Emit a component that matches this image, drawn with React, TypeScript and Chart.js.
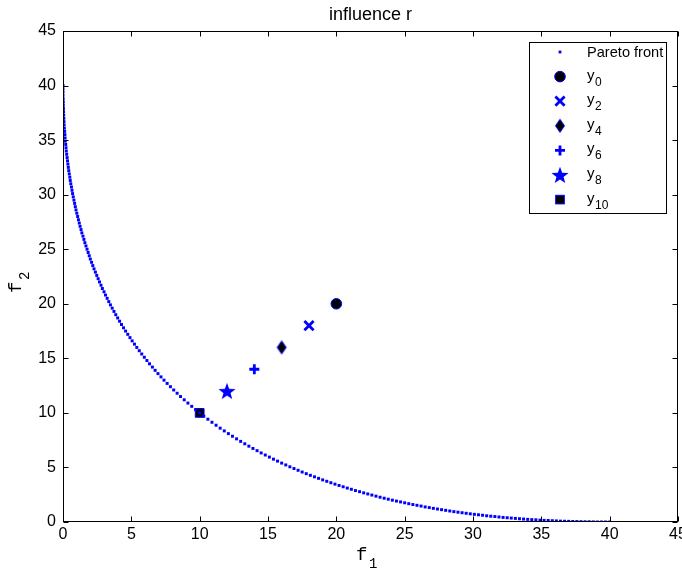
import React, { useEffect, useRef } from 'react';
import { Chart, registerables } from 'chart.js';

Chart.register(...registerables);

// ---------- data ----------
const paretoF1 = [
  0, 0, 0, 0, 0.01, 0.02, 0.02, 0.03, 0.04, 0.05,
  0.06, 0.07, 0.08, 0.10, 0.12, 0.14, 0.15, 0.17, 0.20, 0.22,
  0.24, 0.27, 0.30, 0.33, 0.36, 0.39, 0.42, 0.46, 0.50, 0.53,
  0.57, 0.62, 0.66, 0.70, 0.75, 0.80, 0.85, 0.90, 0.95, 1.01,
  1.07, 1.13, 1.19, 1.25, 1.32, 1.38, 1.46, 1.53, 1.60, 1.68,
  1.76, 1.84, 1.92, 2.00, 2.09, 2.18, 2.27, 2.37, 2.47, 2.57,
  2.67, 2.78, 2.88, 3.00, 3.11, 3.23, 3.35, 3.47, 3.60, 3.73,
  3.86, 4.00, 4.14, 4.28, 4.43, 4.58, 4.74, 4.90, 5.06, 5.23,
  5.40, 5.58, 5.76, 5.95, 6.14, 6.33, 6.54, 6.74, 6.95, 7.17,
  7.39, 7.62, 7.86, 8.10, 8.35, 8.60, 8.87, 9.14, 9.42, 9.70,
  10.0,
  10.3, 10.6, 10.9, 11.2, 11.5, 11.8, 12.1, 12.4, 12.7, 13.0,
  13.3, 13.6, 13.9, 14.2, 14.5, 14.8, 15.1, 15.4, 15.7, 16.0,
  16.3, 16.6, 16.9, 17.2, 17.5, 17.8, 18.1, 18.4, 18.7, 19.0,
  19.3, 19.6, 19.9, 20.2, 20.5, 20.8, 21.1, 21.4, 21.7, 22.0,
  22.3, 22.6, 22.9, 23.2, 23.5, 23.8, 24.1, 24.4, 24.7, 25.0,
  25.3, 25.6, 25.9, 26.2, 26.5, 26.8, 27.1, 27.4, 27.7, 28.0,
  28.3, 28.6, 28.9, 29.2, 29.5, 29.8, 30.1, 30.4, 30.7, 31.0,
  31.3, 31.6, 31.9, 32.2, 32.5, 32.8, 33.1, 33.4, 33.7, 34.0,
  34.3, 34.6, 34.9, 35.2, 35.5, 35.8, 36.1, 36.4, 36.7, 37.0,
  37.3, 37.6, 37.9, 38.2, 38.5, 38.8, 39.1, 39.4, 39.7, 40.0,
];

const paretoF2 = [
  40.0, 39.7, 39.4, 39.1, 38.8, 38.5, 38.2, 37.9, 37.6, 37.3,
  37.0, 36.7, 36.4, 36.1, 35.8, 35.5, 35.2, 34.9, 34.6, 34.3,
  34.0, 33.7, 33.4, 33.1, 32.8, 32.5, 32.2, 31.9, 31.6, 31.3,
  31.0, 30.7, 30.4, 30.1, 29.8, 29.5, 29.2, 28.9, 28.6, 28.3,
  28.0, 27.7, 27.4, 27.1, 26.8, 26.5, 26.2, 25.9, 25.6, 25.3,
  25.0, 24.7, 24.4, 24.1, 23.8, 23.5, 23.2, 22.9, 22.6, 22.3,
  22.0, 21.7, 21.4, 21.1, 20.8, 20.5, 20.2, 19.9, 19.6, 19.3,
  19.0, 18.7, 18.4, 18.1, 17.8, 17.5, 17.2, 16.9, 16.6, 16.3,
  16.0, 15.7, 15.4, 15.1, 14.8, 14.5, 14.2, 13.9, 13.6, 13.3,
  13.0, 12.7, 12.4, 12.1, 11.8, 11.5, 11.2, 10.9, 10.6, 10.3,
  10.0,
  9.70, 9.42, 9.14, 8.87, 8.60, 8.35, 8.10, 7.86, 7.62, 7.39,
  7.17, 6.95, 6.74, 6.54, 6.33, 6.14, 5.95, 5.76, 5.58, 5.40,
  5.23, 5.06, 4.90, 4.74, 4.58, 4.43, 4.28, 4.14, 4.00, 3.86,
  3.73, 3.60, 3.47, 3.35, 3.23, 3.11, 3.00, 2.88, 2.78, 2.67,
  2.57, 2.47, 2.37, 2.27, 2.18, 2.09, 2.00, 1.92, 1.84, 1.76,
  1.68, 1.60, 1.53, 1.46, 1.38, 1.32, 1.25, 1.19, 1.13, 1.07,
  1.01, 0.95, 0.90, 0.85, 0.80, 0.75, 0.70, 0.66, 0.62, 0.57,
  0.53, 0.50, 0.46, 0.42, 0.39, 0.36, 0.33, 0.30, 0.27, 0.24,
  0.22, 0.20, 0.17, 0.15, 0.14, 0.12, 0.10, 0.08, 0.07, 0.06,
  0.05, 0.04, 0.03, 0.02, 0.02, 0.01, 0, 0, 0, 0,
];

const solutionSubscripts = ['0', '2', '4', '6', '8', '10'];
const solutionF1 = [20, 18, 16, 14, 12, 10];
const solutionF2 = [20, 18, 16, 14, 12, 10];

const titleText = 'influence r';
const paretoLabel = 'Pareto front';
const axisMin = 0;
const axisMax = 45;
const axisStep = 5;

// ---------- styling ----------
const BLUE = '#0000ff';
const SANS = '"Liberation Sans", Arial, Helvetica, sans-serif';
const MONO = '"Liberation Mono", "Courier New", monospace';

function makeStar(): HTMLCanvasElement {
  const c = document.createElement('canvas');
  c.width = 20;
  c.height = 20;
  const g = c.getContext('2d')!;
  g.beginPath();
  for (let i = 0; i < 10; i++) {
    const r = i % 2 === 0 ? 9 : 3.7;
    const a = -Math.PI / 2 + (i * Math.PI) / 5;
    const px = 10 + r * Math.cos(a);
    const py = 10.8 + r * Math.sin(a);
    if (i === 0) g.moveTo(px, py);
    else g.lineTo(px, py);
  }
  g.closePath();
  g.fillStyle = BLUE;
  g.fill();
  return c;
}

function makeDiamond(): HTMLCanvasElement {
  const c = document.createElement('canvas');
  c.width = 12;
  c.height = 16;
  const g = c.getContext('2d')!;
  g.beginPath();
  g.moveTo(6, 1.5);
  g.lineTo(10.5, 8);
  g.lineTo(6, 14.5);
  g.lineTo(1.5, 8);
  g.closePath();
  g.fillStyle = '#000';
  g.fill();
  g.strokeStyle = BLUE;
  g.lineWidth = 1;
  g.stroke();
  return c;
}

type MarkerSpec = {
  pointStyle: any;
  radius: number;
  bg: string;
  border: string;
  borderWidth: number;
};

export default function App() {
  const ref = useRef<HTMLCanvasElement | null>(null);

  useEffect(() => {
    document.body.style.margin = '0';
    const canvas = ref.current;
    if (!canvas) return;

    const star = makeStar();
    const diamond = makeDiamond();

    const markers: MarkerSpec[] = [
      { pointStyle: 'circle', radius: 5.3, bg: '#000', border: BLUE, borderWidth: 1 },
      { pointStyle: 'crossRot', radius: 6.5, bg: BLUE, border: BLUE, borderWidth: 2.8 },
      { pointStyle: diamond, radius: 6, bg: '#000', border: BLUE, borderWidth: 1 },
      { pointStyle: 'cross', radius: 5, bg: BLUE, border: BLUE, borderWidth: 2.8 },
      { pointStyle: star, radius: 9, bg: BLUE, border: BLUE, borderWidth: 0 },
      { pointStyle: 'rect', radius: 6.2, bg: '#000', border: BLUE, borderWidth: 1 },
    ];

    const paretoData = paretoF1.map((x, i) => ({ x, y: paretoF2[i] }));

    const datasets: any[] = [
      {
        label: paretoLabel,
        data: paretoData,
        pointStyle: 'rect',
        pointRadius: 2.1,
        pointBackgroundColor: BLUE,
        pointBorderWidth: 0,
        showLine: false,
      },
      ...solutionF1.map((x, i) => ({
        label: 'y' + solutionSubscripts[i],
        data: [{ x, y: solutionF2[i] }],
        pointStyle: markers[i].pointStyle,
        pointRadius: markers[i].radius,
        pointBackgroundColor: markers[i].bg,
        pointBorderColor: markers[i].border,
        pointBorderWidth: markers[i].borderWidth,
        showLine: false,
      })),
    ];

    const drawLegendMarker = (ctx: CanvasRenderingContext2D, idx: number, x: number, y: number) => {
      ctx.save();
      if (idx === -1) {
        ctx.fillStyle = BLUE;
        ctx.fillRect(x - 1.4, y - 1.4, 2.8, 2.8);
      } else if (idx === 0) {
        ctx.beginPath();
        ctx.arc(x, y, 5.3, 0, Math.PI * 2);
        ctx.fillStyle = '#000';
        ctx.fill();
        ctx.strokeStyle = BLUE;
        ctx.lineWidth = 1;
        ctx.stroke();
      } else if (idx === 1) {
        ctx.strokeStyle = BLUE;
        ctx.lineWidth = 2.8;
        const d = 4.6;
        ctx.beginPath();
        ctx.moveTo(x - d, y - d);
        ctx.lineTo(x + d, y + d);
        ctx.moveTo(x - d, y + d);
        ctx.lineTo(x + d, y - d);
        ctx.stroke();
      } else if (idx === 2) {
        ctx.drawImage(diamond, x - diamond.width / 2, y - diamond.height / 2);
      } else if (idx === 3) {
        ctx.strokeStyle = BLUE;
        ctx.lineWidth = 2.8;
        const d = 5;
        ctx.beginPath();
        ctx.moveTo(x - d, y);
        ctx.lineTo(x + d, y);
        ctx.moveTo(x, y - d);
        ctx.lineTo(x, y + d);
        ctx.stroke();
      } else if (idx === 4) {
        ctx.drawImage(star, x - star.width / 2, y - star.height / 2);
      } else if (idx === 5) {
        ctx.fillStyle = '#000';
        ctx.fillRect(x - 4.3, y - 4.3, 8.6, 8.6);
        ctx.strokeStyle = BLUE;
        ctx.lineWidth = 1;
        ctx.strokeRect(x - 4.3, y - 4.3, 8.6, 8.6);
      }
      ctx.restore();
    };

    const matlabPlugin = {
      id: 'matlabDecor',
      afterDraw(chart: any) {
        const ctx: CanvasRenderingContext2D = chart.ctx;
        const a = chart.chartArea;
        const xs = chart.scales.x;
        const ys = chart.scales.y;
        ctx.save();

        // frame
        ctx.strokeStyle = '#000';
        ctx.lineWidth = 1;
        const L = Math.round(a.left) + 0.5;
        const R = Math.round(a.right) - 0.5;
        const T = Math.round(a.top) + 0.5;
        const B = Math.round(a.bottom) - 0.5;
        ctx.strokeRect(L, T, R - L, B - T);

        // inward ticks
        const tl = 5;
        ctx.beginPath();
        for (let v = axisMin; v <= axisMax; v += axisStep) {
          const px = Math.round(xs.getPixelForValue(v)) + 0.5;
          ctx.moveTo(px, B);
          ctx.lineTo(px, B - tl);
          ctx.moveTo(px, T);
          ctx.lineTo(px, T + tl);
          const py = Math.round(ys.getPixelForValue(v)) + 0.5;
          ctx.moveTo(L, py);
          ctx.lineTo(L + tl, py);
          ctx.moveTo(R, py);
          ctx.lineTo(R - tl, py);
        }
        ctx.stroke();

        // title
        ctx.fillStyle = '#000';
        ctx.font = `18px ${SANS}`;
        ctx.textAlign = 'center';
        ctx.textBaseline = 'alphabetic';
        ctx.fillText(titleText, (a.left + a.right) / 2, 20);

        // x axis label f_1
        ctx.textAlign = 'left';
        ctx.font = `19px ${MONO}`;
        ctx.fillText('f', 356, 560);
        ctx.font = `14px ${MONO}`;
        ctx.fillText('1', 369, 568);

        // y axis label f_2
        ctx.save();
        ctx.translate(21, 293);
        ctx.rotate(-Math.PI / 2);
        ctx.font = `19px ${MONO}`;
        ctx.fillText('f', 0, 0);
        ctx.font = `14px ${MONO}`;
        ctx.fillText('2', 13, 8);
        ctx.restore();

        // legend
        const bx = 529.5, by = 42.5, bw = 137, bh = 171;
        ctx.fillStyle = '#fff';
        ctx.fillRect(bx, by, bw, bh);
        ctx.strokeStyle = '#000';
        ctx.lineWidth = 1;
        ctx.strokeRect(bx, by, bw, bh);

        const mx = 560;
        const tx = 587;
        const rowY = (i: number) => 52 + i * 24.6;
        drawLegendMarker(ctx, -1, mx, rowY(0));
        ctx.fillStyle = '#000';
        ctx.font = `14.6px ${SANS}`;
        ctx.fillText(paretoLabel, tx, rowY(0) + 5);
        for (let i = 0; i < solutionSubscripts.length; i++) {
          const cy = rowY(i + 1);
          drawLegendMarker(ctx, i, mx, cy);
          ctx.fillStyle = '#000';
          ctx.font = `15px ${SANS}`;
          ctx.fillText('y', tx, cy + 3);
          ctx.font = `12px ${SANS}`;
          ctx.fillText(solutionSubscripts[i], tx + 8, cy + 9);
        }
        ctx.restore();
      },
    };

    const chart = new Chart(canvas, {
      type: 'scatter',
      data: { datasets },
      options: {
        responsive: false,
        animation: false,
        devicePixelRatio: 1,
        layout: { padding: { top: 31, right: 22, left: 0, bottom: 0 } },
        plugins: {
          legend: { display: false },
          title: { display: false },
          tooltip: { enabled: false },
        },
        scales: {
          x: {
            type: 'linear',
            min: axisMin,
            max: axisMax,
            grid: { display: false, drawTicks: false },
            border: { display: false },
            ticks: {
              stepSize: axisStep,
              color: '#000',
              font: { family: SANS, size: 16 },
              padding: 3,
              maxRotation: 0,
              autoSkip: false,
            },
            afterFit: (s: any) => {
              s.height = 56;
            },
          },
          y: {
            type: 'linear',
            min: axisMin,
            max: axisMax,
            grid: { display: false, drawTicks: false },
            border: { display: false },
            ticks: {
              stepSize: axisStep,
              color: '#000',
              font: { family: SANS, size: 16 },
              padding: 7,
              autoSkip: false,
            },
            afterFit: (s: any) => {
              s.width = 63;
            },
          },
        },
      },
      plugins: [matlabPlugin],
    });

    return () => {
      chart.destroy();
    };
  }, []);

  return (
    <div style={{ width: 682, height: 578, overflow: 'hidden', background: '#fff' }}>
      <canvas ref={ref} width={700} height={578} style={{ display: 'block' }} />
    </div>
  );
}
